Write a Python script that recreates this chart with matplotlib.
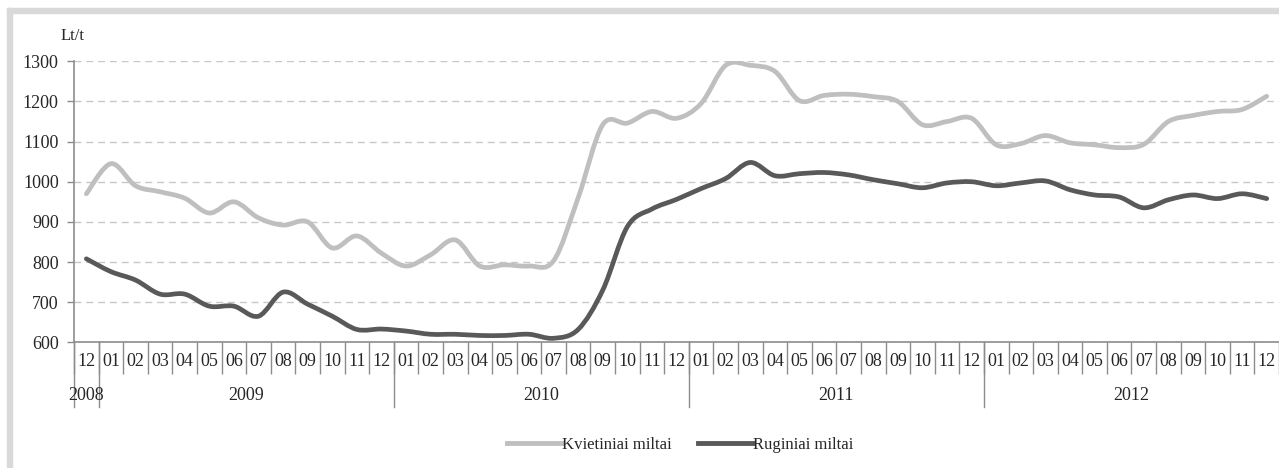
import numpy as np
import matplotlib
matplotlib.use("Agg")
import matplotlib.pyplot as plt
from matplotlib.path import Path
from matplotlib.patches import PathPatch, Rectangle
from matplotlib.lines import Line2D

plt.rcParams["font.family"] = ["Liberation Serif", "DejaVu Serif"]

# month labels, Dec 2008 .. Dec 2012
months = ["12"] + ["%02d" % m for m in range(1, 13)] * 4
years = ["2008", "2009", "2010", "2011", "2012"]
year_start = [0, 1, 13, 25, 37]   # first category of each year
year_end = [0, 12, 24, 36, 48]

wheat = [970, 1045, 990, 975, 959, 922, 950, 910, 892, 900, 835, 865, 822,
         790, 818, 855, 790, 793, 790, 803, 960, 1142, 1146, 1175, 1158,
         1195, 1290, 1290, 1275, 1202, 1215, 1218, 1212, 1200, 1142, 1150, 1158,
         1092, 1095, 1115, 1097, 1092, 1085, 1093, 1150, 1165, 1175, 1180, 1213]
rye = [808, 776, 755, 720, 720, 690, 690, 665, 725, 695, 665, 632, 633,
       628, 620, 620, 617, 617, 620, 610, 632, 730, 888, 932, 956,
       983, 1008, 1048, 1015, 1020, 1023, 1017, 1005, 995, 985, 997, 1000,
       990, 997, 1002, 980, 967, 962, 935, 955, 967, 958, 970, 958]

names = ["Kvietiniai miltai", "Ruginiai miltai"]
colors = ["#bfbfbf", "#595959"]


def smooth_path(x, y):
    # bezier path through the points (like a spreadsheet "smoothed line")
    pts = np.column_stack([x, y]).astype(float)
    verts = [pts[0]]
    codes = [Path.MOVETO]
    n = len(pts)
    for i in range(n - 1):
        p0 = pts[i - 1] if i > 0 else pts[i]
        p1 = pts[i]
        p2 = pts[i + 1]
        p3 = pts[i + 2] if i + 2 < n else pts[i + 1]
        c1 = p1 + (p2 - p0) / 6.0
        c2 = p2 - (p3 - p1) / 6.0
        verts += [c1, c2, p2]
        codes += [Path.CURVE4] * 3
    return Path(verts, codes)


fig = plt.figure(figsize=(12.79, 4.68), dpi=100)
# light grey frame (top and left edges)
fig.patches.append(Rectangle((0.0055, 0.972), 0.9945, 0.011, transform=fig.transFigure,
                             color="#d9d9d9", zorder=0))
fig.patches.append(Rectangle((0.0055, 0.0), 0.0039, 0.983, transform=fig.transFigure,
                             color="#d9d9d9", zorder=0))

ax = fig.add_axes([0.0579, 0.2686, 0.9421, 0.6004])
x = np.arange(len(months))

for vals, c in zip([wheat, rye], colors):
    ax.add_patch(PathPatch(smooth_path(x, vals), fill=False, edgecolor=c,
                           lw=3.4, capstyle="round", joinstyle="round", zorder=3))

ax.set_xlim(-0.5, len(months) - 0.5)
ax.set_ylim(600, 1300)
ax.set_yticks(range(600, 1301, 100))
ax.yaxis.grid(True, color="#c8c8c8", linestyle=(0, (5, 3.5)), lw=1)
ax.set_axisbelow(True)

for s in ["top", "right"]:
    ax.spines[s].set_visible(False)
for s in ["left", "bottom"]:
    ax.spines[s].set_color("#8c8c8c")
    ax.spines[s].set_linewidth(1.2)

ax.tick_params(axis="y", length=5, width=1, color="#8c8c8c", pad=6,
               labelsize=13, labelcolor="#262626")
ax.set_xticks(x)
ax.set_xticklabels(months)
ax.set_xticks(np.arange(len(months) + 1) - 0.5, minor=True)
ax.tick_params(axis="x", which="major", length=0, pad=8, labelsize=13,
               labelcolor="#262626")
ax.tick_params(axis="x", which="minor", length=23, width=1, color="#8c8c8c")

# year separators and labels
xt = ax.get_xaxis_transform()
ah = 0.6004 * 468
aw = 0.9421 * 1279
for b in [-0.5, 0.5, 12.5, 24.5, 36.5]:
    ax.plot([b, b], [0, -65 / ah], transform=xt, color="#8c8c8c", lw=1, clip_on=False)
for yr, a, b in zip(years, year_start, year_end):
    ax.text((a + b) / 2, -53 / ah, yr, transform=xt, ha="center", va="center",
            fontsize=13, color="#262626")

ax.text(-14 / aw, 306 / ah, "Lt/t", transform=ax.transAxes,
        ha="left", va="center", fontsize=12, color="#262626")

handles = [Line2D([], [], color=c, lw=3.5) for c in colors]
fig.legend(handles, names, loc="center", bbox_to_anchor=(0.5317, 0.049), ncol=2,
           frameon=False, fontsize=12, handlelength=3.3, handletextpad=0.0,
           columnspacing=1.6, labelcolor="#262626")

fig.savefig("out.png", dpi=100)
